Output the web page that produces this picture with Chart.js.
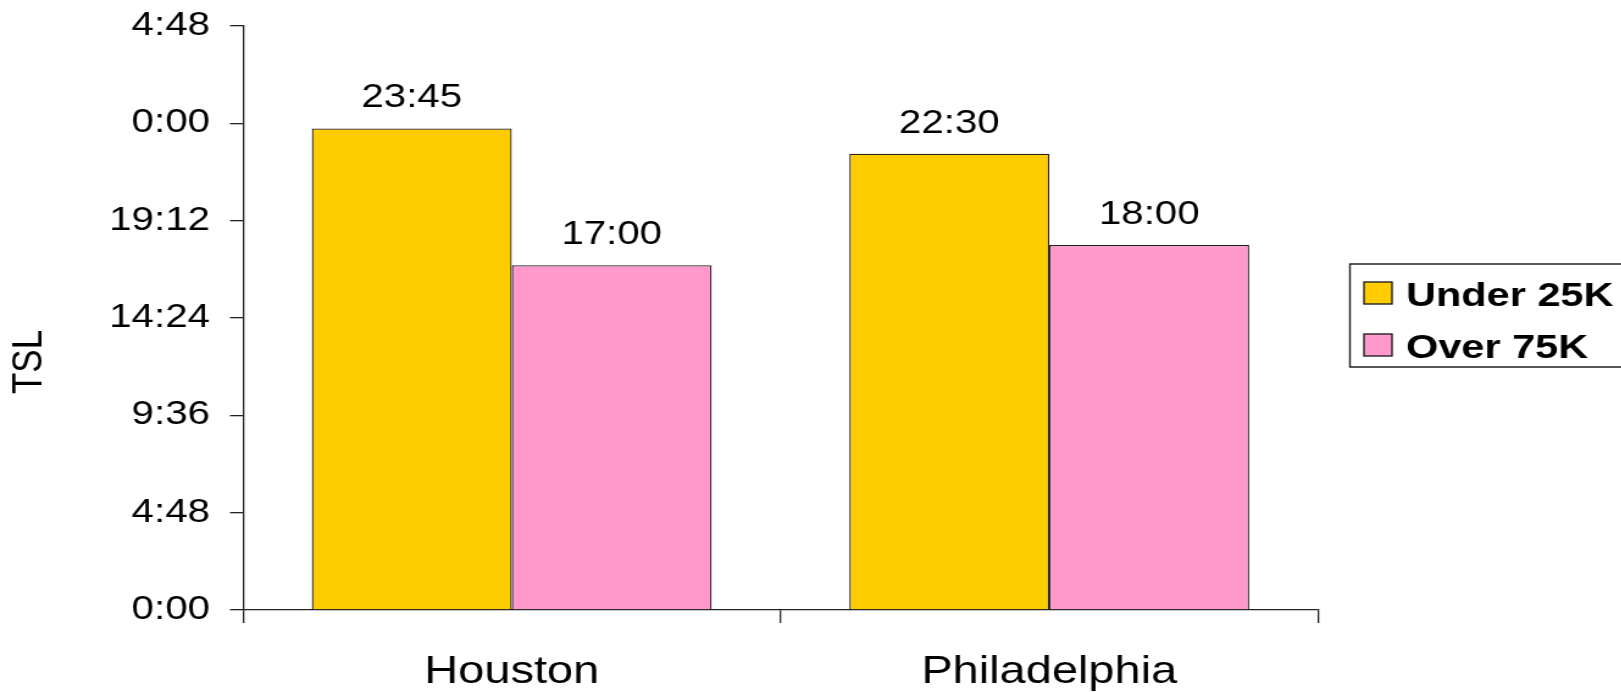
<!DOCTYPE html>
<html>
<head>
<meta charset="utf-8">
<title>TSL by income</title>
<script src="https://cdn.jsdelivr.net/npm/chart.js@4.4.1/dist/chart.umd.min.js"></script>
<style>
  html, body { margin: 0; padding: 0; background: #fff; overflow: hidden; }
  #wrap { width: 1621px; height: 692px; position: relative; overflow: hidden; }
  /* the chart is laid out narrow and widened, giving the broad lettering */
  #chart { transform: scaleX(1.22); transform-origin: 0 0; }
</style>
</head>
<body>
<div id="wrap"><canvas id="chart" width="1329" height="692"></canvas></div>
<script>
// Cities on the category axis
const categories = ['Houston', 'Philadelphia'];
// Time spent listening, as H:MM
const under25K = ['23:45', '22:30'];
const over75K = ['17:00', '18:00'];
const seriesNames = ['Under 25K', 'Over 75K'];
const seriesColors = ['#FFCC00', '#FF99CC'];
// Value axis in minutes: 0 to 28:48, one tick every 4:48
const yMaxMinutes = 1728;
const yStepMinutes = 288;
const yTitle = 'TSL';

const FONT = '"Liberation Sans", Arial, Helvetica, sans-serif';
const INK = '#222';

function toMinutes(hm) {
  const [h, m] = hm.split(':').map(Number);
  return h * 60 + m;
}
function toClock(mins) {
  const t = Math.round(mins) % 1440;
  const h = Math.floor(t / 60);
  const m = t % 60;
  return h + ':' + String(m).padStart(2, '0');
}

// Value text above each bar
const barValueLabels = {
  id: 'barValueLabels',
  afterDatasetsDraw(chart) {
    const ctx = chart.ctx;
    ctx.save();
    ctx.font = '33px ' + FONT;
    ctx.fillStyle = '#000';
    ctx.textAlign = 'center';
    ctx.textBaseline = 'alphabetic';
    chart.data.datasets.forEach((ds, i) => {
      chart.getDatasetMeta(i).data.forEach((bar, j) => {
        ctx.fillText(toClock(ds.data[j]), bar.x, bar.y - 21);
      });
    });
    ctx.restore();
  }
};

// Rotated value-axis title, a little below the middle of the axis
const sideTitle = {
  id: 'sideTitle',
  afterDraw(chart) {
    const ctx = chart.ctx;
    ctx.save();
    ctx.translate(24, 362);
    ctx.rotate(-Math.PI / 2);
    ctx.font = '35px ' + FONT;
    ctx.fillStyle = '#000';
    ctx.textAlign = 'center';
    ctx.textBaseline = 'middle';
    ctx.fillText(yTitle, 0, 0);
    ctx.restore();
  }
};

// Boxed legend at the right of the plot
const boxedLegend = {
  id: 'boxedLegend',
  afterDraw(chart) {
    const ctx = chart.ctx;
    const left = 1106.5, top = 264, bottom = 367;
    ctx.save();
    ctx.lineWidth = 1.4;
    ctx.strokeStyle = INK;
    ctx.fillStyle = '#fff';
    ctx.beginPath();
    ctx.rect(left, top, chart.width + 20 - left, bottom - top);
    ctx.fill();
    ctx.stroke();
    ctx.font = 'bold 34px ' + FONT;
    ctx.textBaseline = 'alphabetic';
    ctx.textAlign = 'left';
    chart.data.datasets.forEach((ds, i) => {
      const rowTop = 282 + i * 52;
      ctx.fillStyle = ds.backgroundColor;
      ctx.fillRect(1118, rowTop, 23, 22);
      ctx.strokeRect(1118, rowTop, 23, 22);
      ctx.fillStyle = '#000';
      ctx.fillText(ds.label, 1152.5, rowTop + 24);
    });
    ctx.restore();
  }
};

const axisLine = { display: true, color: INK, width: 1.3 };

new Chart(document.getElementById('chart'), {
  type: 'bar',
  data: {
    labels: categories,
    datasets: [under25K, over75K].map((vals, i) => ({
      label: seriesNames[i],
      data: vals.map(toMinutes),
      backgroundColor: seriesColors[i],
      borderColor: INK,
      borderWidth: 1.3,
      categoryPercentage: 0.744,
      barPercentage: 1.0
    }))
  },
  options: {
    responsive: false,
    animation: false,
    devicePixelRatio: 1,
    layout: { padding: { top: 26, right: 248.7, bottom: 0, left: 0 } },
    plugins: {
      legend: { display: false },
      tooltip: { enabled: false }
    },
    scales: {
      x: {
        grid: { offset: true, drawOnChartArea: false, drawTicks: true, tickLength: 13, color: INK, lineWidth: 1.3 },
        border: axisLine,
        ticks: { color: '#000', font: { family: FONT, size: 38.5 }, padding: 26 },
        afterFit(scale) {
          scale.height = 82;
          scale.paddingLeft = 0;
          scale.paddingRight = 0;
        }
      },
      y: {
        min: 0,
        max: yMaxMinutes,
        grid: { drawOnChartArea: false, drawTicks: true, tickLength: 10.7, color: INK, lineWidth: 1.3 },
        border: axisLine,
        ticks: {
          stepSize: yStepMinutes,
          color: '#000',
          font: { family: FONT, size: 33 },
          padding: 16.4,
          callback: (v) => toClock(v)
        },
        afterFit(scale) {
          scale.width = 199.2;
          scale.paddingTop = 0;
          scale.paddingBottom = 0;
        }
      }
    }
  },
  plugins: [barValueLabels, sideTitle, boxedLegend]
});
</script>
</body>
</html>
